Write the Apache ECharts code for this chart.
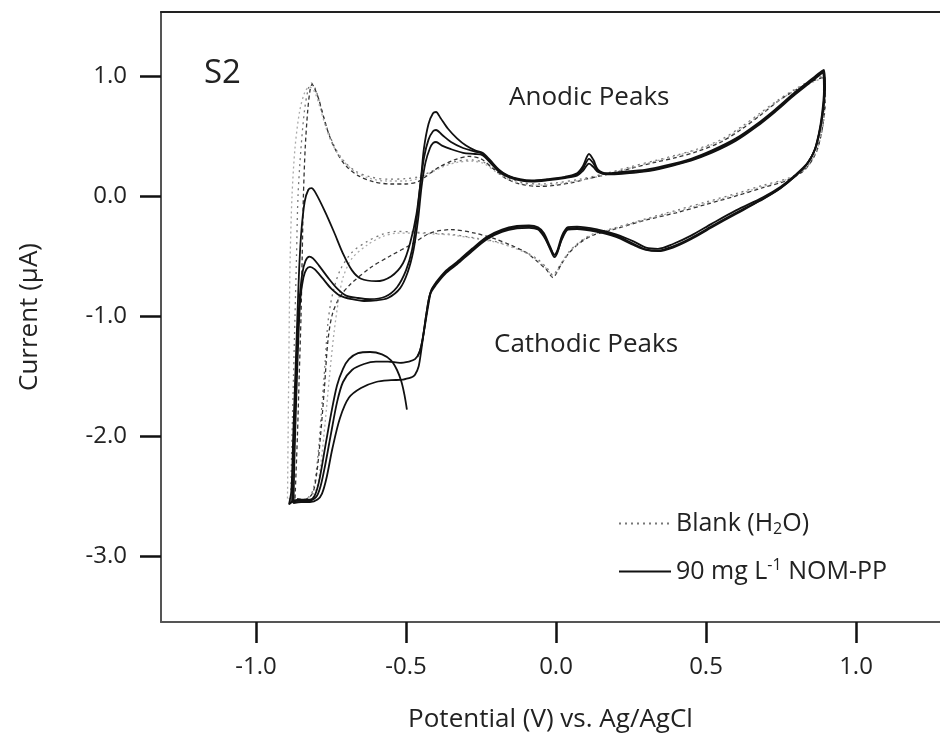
<!DOCTYPE html>
<html>
<head>
<meta charset="utf-8">
<script src="https://cdn.jsdelivr.net/npm/echarts/dist/echarts.min.js"></script>
<style>
html,body{margin:0;padding:0;background:#fff;}
#chart{width:940px;height:741px;}
</style>
</head>
<body>
<div id="chart"></div>
<script>
// ---- tick values ----
const xTicks = [-1.0, -0.5, 0.0, 0.5, 1.0];
const yTicks = [1.0, 0.0, -1.0, -2.0, -3.0];

// ---- series names ----
const blankName = 'Blank (H2O)';
const nomName = '90 mg L-1 NOM-PP';

// ---- 90 mg/L NOM-PP, three cycles [potential V, current uA] ----
const solid1 = [
[-0.497,-1.78],[-0.505,-1.66],[-0.515,-1.55],[-0.53,-1.45],[-0.55,-1.37],[-0.58,-1.32],[-0.62,-1.30],[-0.66,-1.31],[-0.69,-1.36],[-0.71,-1.44],[-0.73,-1.58],[-0.75,-1.82],[-0.77,-2.1],[-0.79,-2.38],[-0.805,-2.5],[-0.82,-2.53],[-0.85,-2.53],[-0.875,-2.54],[-0.89,-2.57],
[-0.882,-2.45],[-0.876,-2.0],[-0.869,-1.5],[-0.862,-1.0],[-0.856,-0.6],[-0.849,-0.3],[-0.838,-0.05],[-0.826,0.05],[-0.815,0.065],[-0.80,0.02],[-0.77,-0.13],[-0.74,-0.30],[-0.71,-0.48],[-0.68,-0.62],[-0.65,-0.69],[-0.60,-0.71],[-0.55,-0.67],[-0.51,-0.56],[-0.485,-0.38],[-0.465,-0.15],[-0.45,0.15],[-0.44,0.40],[-0.425,0.60],[-0.41,0.69],[-0.40,0.70],[-0.385,0.65],[-0.36,0.56],[-0.33,0.48],[-0.30,0.42],[-0.27,0.38],[-0.245,0.36],[-0.22,0.30],[-0.19,0.22],[-0.16,0.17],[-0.12,0.14],[-0.08,0.13],[-0.03,0.14],[0.03,0.16],[0.07,0.19],[0.09,0.25],[0.11,0.35],[0.125,0.30],[0.14,0.22],[0.17,0.19],[0.22,0.20],[0.30,0.22],[0.36,0.25],[0.45,0.31],[0.52,0.38],[0.60,0.48],[0.67,0.60],[0.73,0.72],[0.79,0.85],[0.84,0.95],[0.88,1.03],[0.893,1.05],
[0.897,0.90],[0.89,0.70],[0.88,0.55],[0.865,0.40],[0.84,0.28],[0.80,0.18],[0.75,0.08],[0.69,-0.01],[0.60,-0.12],[0.52,-0.23],[0.45,-0.33],[0.39,-0.40],[0.34,-0.44],[0.30,-0.43],[0.26,-0.38],[0.20,-0.32],[0.14,-0.28],[0.07,-0.255],[0.04,-0.26],[0.02,-0.33],[0.005,-0.45],[-0.005,-0.49],[-0.02,-0.42],[-0.04,-0.31],[-0.06,-0.26],[-0.09,-0.245],[-0.13,-0.25],[-0.18,-0.28],[-0.23,-0.34],[-0.28,-0.44],[-0.33,-0.55],[-0.37,-0.63],[-0.40,-0.72],[-0.415,-0.78],[-0.425,-0.90],[-0.435,-1.05],[-0.445,-1.20],[-0.455,-1.30],[-0.47,-1.36],[-0.49,-1.38]
];
const solid2 = [
[-0.49,-1.38],[-0.52,-1.39],[-0.56,-1.38],[-0.60,-1.38],[-0.64,-1.40],[-0.68,-1.45],[-0.71,-1.55],[-0.73,-1.72],[-0.75,-1.98],[-0.77,-2.25],[-0.785,-2.42],[-0.80,-2.51],[-0.83,-2.54],[-0.86,-2.54],[-0.88,-2.55],
[-0.877,-2.3],[-0.871,-1.8],[-0.864,-1.3],[-0.856,-0.9],[-0.846,-0.65],[-0.835,-0.54],[-0.822,-0.505],[-0.81,-0.52],[-0.79,-0.58],[-0.76,-0.68],[-0.73,-0.77],[-0.70,-0.83],[-0.66,-0.85],[-0.62,-0.86],[-0.57,-0.84],[-0.53,-0.76],[-0.50,-0.62],[-0.48,-0.45],[-0.465,-0.2],[-0.452,0.1],[-0.44,0.32],[-0.425,0.47],[-0.41,0.54],[-0.40,0.55],[-0.38,0.51],[-0.35,0.45],[-0.31,0.40],[-0.27,0.37],[-0.245,0.35],[-0.22,0.29],[-0.19,0.21],[-0.16,0.165],[-0.12,0.135],[-0.08,0.125],[-0.03,0.135],[0.03,0.155],[0.07,0.18],[0.09,0.23],[0.11,0.31],[0.125,0.27],[0.14,0.21],[0.17,0.185],[0.22,0.19],[0.30,0.21],[0.36,0.24],[0.45,0.30],[0.52,0.37],[0.60,0.47],[0.67,0.59],[0.73,0.71],[0.79,0.84],[0.84,0.94],[0.88,1.02],[0.892,1.04],
[0.895,0.88],[0.888,0.68],[0.878,0.53],[0.862,0.38],[0.835,0.26],[0.795,0.16],[0.745,0.06],[0.685,-0.03],[0.60,-0.14],[0.52,-0.25],[0.45,-0.35],[0.39,-0.42],[0.34,-0.455],[0.30,-0.445],[0.26,-0.40],[0.20,-0.33],[0.14,-0.29],[0.07,-0.265],[0.04,-0.27],[0.02,-0.35],[0.005,-0.47],[-0.005,-0.51],[-0.02,-0.44],[-0.04,-0.33],[-0.06,-0.27],[-0.09,-0.255],[-0.13,-0.26],[-0.18,-0.29],[-0.23,-0.35],[-0.28,-0.45],[-0.33,-0.56],[-0.37,-0.64],[-0.40,-0.73],[-0.418,-0.80],[-0.43,-0.95],[-0.44,-1.12],[-0.45,-1.30],[-0.458,-1.42],[-0.47,-1.49],[-0.48,-1.51]
];
const solid3 = [
[-0.48,-1.51],[-0.51,-1.53],[-0.55,-1.535],[-0.60,-1.55],[-0.65,-1.60],[-0.69,-1.68],[-0.72,-1.85],[-0.745,-2.1],[-0.765,-2.35],[-0.78,-2.48],[-0.795,-2.53],[-0.82,-2.55],[-0.85,-2.55],[-0.875,-2.56],
[-0.872,-2.2],[-0.866,-1.7],[-0.859,-1.2],[-0.852,-0.85],[-0.842,-0.68],[-0.832,-0.61],[-0.82,-0.59],[-0.805,-0.61],[-0.78,-0.68],[-0.75,-0.77],[-0.72,-0.83],[-0.68,-0.86],[-0.64,-0.875],[-0.60,-0.87],[-0.56,-0.85],[-0.52,-0.77],[-0.495,-0.64],[-0.475,-0.45],[-0.46,-0.2],[-0.448,0.08],[-0.435,0.28],[-0.42,0.40],[-0.41,0.44],[-0.40,0.45],[-0.38,0.42],[-0.35,0.39],[-0.31,0.36],[-0.27,0.35],[-0.245,0.34],[-0.22,0.28],[-0.19,0.20],[-0.16,0.16],[-0.12,0.13],[-0.08,0.12],[-0.03,0.13],[0.03,0.15],[0.07,0.17],[0.09,0.21],[0.11,0.27],[0.125,0.24],[0.14,0.20],[0.17,0.18],[0.22,0.185],[0.30,0.205],[0.36,0.235],[0.45,0.295],[0.52,0.36],[0.60,0.46],[0.67,0.58],[0.73,0.70],[0.79,0.83],[0.84,0.93],[0.88,1.01],[0.89,1.03],
[0.893,0.87],[0.886,0.67],[0.876,0.52],[0.86,0.37],[0.832,0.25],[0.79,0.15],[0.74,0.05],[0.68,-0.04],[0.60,-0.15],[0.52,-0.26],[0.45,-0.36],[0.39,-0.43],[0.34,-0.46],[0.30,-0.45],[0.26,-0.41],[0.20,-0.34],[0.14,-0.30],[0.07,-0.275],[0.04,-0.28],[0.02,-0.36],[0.005,-0.46],[-0.005,-0.49],[-0.02,-0.43],[-0.04,-0.34],[-0.06,-0.28],[-0.09,-0.265],[-0.13,-0.27],[-0.18,-0.30],[-0.23,-0.36],[-0.28,-0.46],[-0.33,-0.57],[-0.37,-0.65],[-0.40,-0.74],[-0.42,-0.82],[-0.432,-0.98],[-0.442,-1.15],[-0.452,-1.28],[-0.462,-1.34]
];

// ---- Blank (H2O), three cycles ----
const blank1 = [
[-0.87,-2.52],[-0.862,-2.0],[-0.856,-1.5],[-0.85,-1.0],[-0.846,-0.5],[-0.842,0.0],[-0.836,0.4],[-0.828,0.7],[-0.82,0.88],[-0.813,0.93],[-0.805,0.9],[-0.79,0.80],[-0.775,0.66],[-0.755,0.50],[-0.73,0.36],[-0.70,0.25],[-0.66,0.17],[-0.61,0.12],[-0.55,0.10],[-0.50,0.10],[-0.46,0.12],[-0.43,0.17],[-0.39,0.24],[-0.34,0.30],[-0.29,0.33],[-0.25,0.31],[-0.21,0.23],[-0.17,0.15],[-0.12,0.10],[-0.06,0.08],[0.0,0.09],[0.05,0.11],[0.10,0.14],[0.17,0.18],[0.25,0.23],[0.33,0.28],[0.40,0.32],[0.47,0.37],[0.55,0.45],[0.62,0.56],[0.68,0.67],[0.74,0.79],[0.79,0.87],[0.84,0.94],[0.88,0.98],[0.895,0.99],
[0.897,0.80],[0.89,0.60],[0.878,0.45],[0.865,0.35],[0.83,0.22],[0.77,0.13],[0.69,0.07],[0.60,0.0],[0.50,-0.07],[0.40,-0.14],[0.30,-0.20],[0.19,-0.28],[0.12,-0.33],[0.08,-0.39],[0.045,-0.47],[0.02,-0.56],[0.0,-0.65],[-0.01,-0.68],[-0.03,-0.62],[-0.06,-0.55],[-0.10,-0.47],[-0.15,-0.41],[-0.20,-0.36],[-0.27,-0.31],[-0.35,-0.28],[-0.42,-0.31],[-0.48,-0.40],[-0.553,-0.50],[-0.62,-0.60],[-0.687,-0.74],[-0.72,-0.84],[-0.745,-0.98],[-0.76,-1.2],[-0.772,-1.6],[-0.785,-2.0],[-0.797,-2.3],[-0.812,-2.48],[-0.84,-2.53],[-0.87,-2.52]
];
const blank2 = [
[-0.885,-2.55],[-0.88,-2.0],[-0.875,-1.5],[-0.87,-1.0],[-0.865,-0.5],[-0.86,0.0],[-0.85,0.4],[-0.838,0.72],[-0.825,0.9],[-0.815,0.94],[-0.80,0.88],[-0.785,0.75],[-0.765,0.58],[-0.74,0.42],[-0.71,0.30],[-0.67,0.21],[-0.62,0.16],[-0.56,0.14],[-0.50,0.145],[-0.46,0.16],[-0.42,0.20],[-0.38,0.25],[-0.33,0.29],[-0.28,0.30],[-0.24,0.28],[-0.20,0.21],[-0.16,0.15],[-0.11,0.11],[-0.05,0.10],[0.0,0.11],[0.08,0.14],[0.17,0.19],[0.25,0.245],[0.33,0.295],[0.40,0.34],[0.47,0.39],[0.55,0.47],[0.62,0.58],[0.68,0.69],[0.74,0.80],[0.79,0.88],[0.84,0.95],[0.88,0.99],[0.895,1.0],
[0.898,0.82],[0.892,0.62],[0.88,0.47],[0.867,0.37],[0.835,0.24],[0.775,0.15],[0.69,0.09],[0.60,0.02],[0.50,-0.05],[0.40,-0.12],[0.30,-0.19],[0.19,-0.27],[0.12,-0.32],[0.08,-0.38],[0.045,-0.46],[0.02,-0.55],[0.0,-0.63],[-0.01,-0.66],[-0.03,-0.60],[-0.06,-0.53],[-0.10,-0.47],[-0.15,-0.42],[-0.20,-0.38],[-0.27,-0.35],[-0.35,-0.32],[-0.42,-0.31],[-0.48,-0.30],[-0.53,-0.295],[-0.58,-0.32],[-0.63,-0.38],[-0.68,-0.47],[-0.72,-0.62],[-0.745,-0.82],[-0.76,-1.05],[-0.77,-1.4],[-0.782,-1.8],[-0.795,-2.2],[-0.81,-2.45],[-0.83,-2.52],[-0.86,-2.54],[-0.885,-2.55]
];
const blank3 = [
[-0.895,-2.52],[-0.893,-2.0],[-0.891,-1.5],[-0.889,-1.0],[-0.886,-0.5],[-0.88,0.0],[-0.87,0.4],[-0.855,0.7],[-0.838,0.86],[-0.822,0.91],[-0.805,0.87],[-0.787,0.74],[-0.767,0.57],[-0.745,0.43],[-0.715,0.31],[-0.675,0.21],[-0.625,0.15],[-0.565,0.125],[-0.50,0.125],[-0.455,0.15],[-0.42,0.19],[-0.38,0.24],[-0.33,0.28],[-0.28,0.29],[-0.24,0.27],[-0.20,0.20],[-0.16,0.14],[-0.11,0.10],[-0.05,0.09],[0.0,0.10],[0.08,0.13],[0.17,0.18],[0.25,0.235],[0.33,0.29],[0.40,0.335],[0.47,0.385],[0.55,0.46],[0.62,0.57],[0.68,0.68],[0.74,0.79],[0.79,0.87],[0.84,0.93],[0.88,0.975],[0.893,0.985],
[0.896,0.81],[0.89,0.61],[0.879,0.46],[0.866,0.36],[0.833,0.23],[0.772,0.14],[0.69,0.08],[0.60,0.01],[0.50,-0.06],[0.40,-0.13],[0.30,-0.195],[0.19,-0.275],[0.12,-0.325],[0.08,-0.385],[0.045,-0.465],[0.02,-0.555],[0.0,-0.64],[-0.01,-0.67],[-0.03,-0.61],[-0.06,-0.54],[-0.10,-0.475],[-0.15,-0.425],[-0.20,-0.385],[-0.27,-0.355],[-0.35,-0.325],[-0.42,-0.315],[-0.48,-0.31],[-0.53,-0.31],[-0.58,-0.34],[-0.63,-0.41],[-0.68,-0.52],[-0.71,-0.68],[-0.725,-0.87],[-0.74,-1.14],[-0.755,-1.5],[-0.77,-1.9],[-0.785,-2.25],[-0.80,-2.45],[-0.83,-2.52],[-0.86,-2.53],[-0.895,-2.52]
];

const FONT = 'Open Sans';
const chart = echarts.init(document.getElementById('chart'), null, {renderer: 'canvas'});

function solidSeries(data) {
  return {name: nomName, type: 'line', data: data, symbol: 'none', smooth: 0.3,
    lineStyle: {color: '#111', width: 1.8}, itemStyle: {color: '#111'}, z: 5, xAxisIndex: 0, yAxisIndex: 0};
}
function blankSeries(data, color, dash) {
  return {name: blankName, type: 'line', data: data, symbol: 'none', smooth: 0.3,
    lineStyle: {color: color, width: 1.3, type: dash}, itemStyle: {color: color}, z: 3, xAxisIndex: 0, yAxisIndex: 0};
}

const option = {
  animation: false,
  backgroundColor: '#fff',
  grid: {left: 161, right: 0, top: 12, bottom: 119, containLabel: false},
  xAxis: [{
    type: 'value', position: 'bottom', min: -1.3167, max: 1.28,
    axisLine: {show: true, onZero: false, lineStyle: {color: '#555', width: 2}},
    axisTick: {show: true, length: 21, customValues: xTicks, lineStyle: {color: '#111', width: 2.5}},
    axisLabel: {show: true, customValues: xTicks, formatter: v => v.toFixed(1), margin: 33,
      fontSize: 24, color: '#222', fontFamily: FONT},
    splitLine: {show: false},
    name: 'Potential (V) vs. Ag/AgCl', nameLocation: 'middle', nameGap: 85,
    nameTextStyle: {fontSize: 26, color: '#222', fontFamily: FONT}
  }, {
    type: 'value', position: 'top', min: -1.3167, max: 1.28,
    axisLine: {show: true, onZero: false, lineStyle: {color: '#222', width: 2}},
    axisTick: {show: false}, axisLabel: {show: false}, splitLine: {show: false}
  }],
  yAxis: [{
    type: 'value', min: -3.55, max: 1.5333,
    axisLine: {show: true, onZero: false, lineStyle: {color: '#555', width: 2}},
    axisTick: {show: true, length: 21, customValues: yTicks, lineStyle: {color: '#111', width: 2.5}},
    axisLabel: {show: true, customValues: yTicks, formatter: v => v.toFixed(1), margin: 34,
      fontSize: 24, color: '#222', fontFamily: FONT},
    splitLine: {show: false},
    name: 'Current (\u00B5A)', nameLocation: 'middle', nameGap: 118, nameRotate: 90,
    nameTextStyle: {fontSize: 26, color: '#222', fontFamily: FONT}
  }],
  legend: {
    orient: 'vertical', left: 613, top: 506, itemWidth: 52, itemHeight: 16, itemGap: 20,
    data: [blankName, nomName],
    itemStyle: {opacity: 0, borderWidth: 0},
    formatter: function (name) {
      return name === blankName ? 'Blank (H{sub|2}O)' : '90 mg L{sup|-1} NOM-PP';
    },
    textStyle: {fontSize: 25, color: '#222', fontFamily: FONT,
      rich: {
        sub: {fontSize: 16, fontFamily: FONT, color: '#222', padding: [12, 0, 0, 0]},
        sup: {fontSize: 16, fontFamily: FONT, color: '#222', padding: [0, 0, 12, 0]}
      }}
  },
  graphic: [
    {type: 'text', left: 204, top: 57, style: {text: 'S2', font: '33px "Open Sans"', fill: '#222'}},
    {type: 'text', left: 509, top: 85, style: {text: 'Anodic Peaks', font: '26px "Open Sans"', fill: '#222'}},
    {type: 'text', left: 494, top: 332, style: {text: 'Cathodic Peaks', font: '26px "Open Sans"', fill: '#222'}}
  ],
  series: [
    blankSeries(blank2, '#777', [2, 4]),
    blankSeries(blank1, '#333', [4, 3]),
    blankSeries(blank3, '#aaa', [2, 3]),
    solidSeries(solid1),
    solidSeries(solid2),
    solidSeries(solid3)
  ]
};
chart.setOption(option);
</script>
</body>
</html>
